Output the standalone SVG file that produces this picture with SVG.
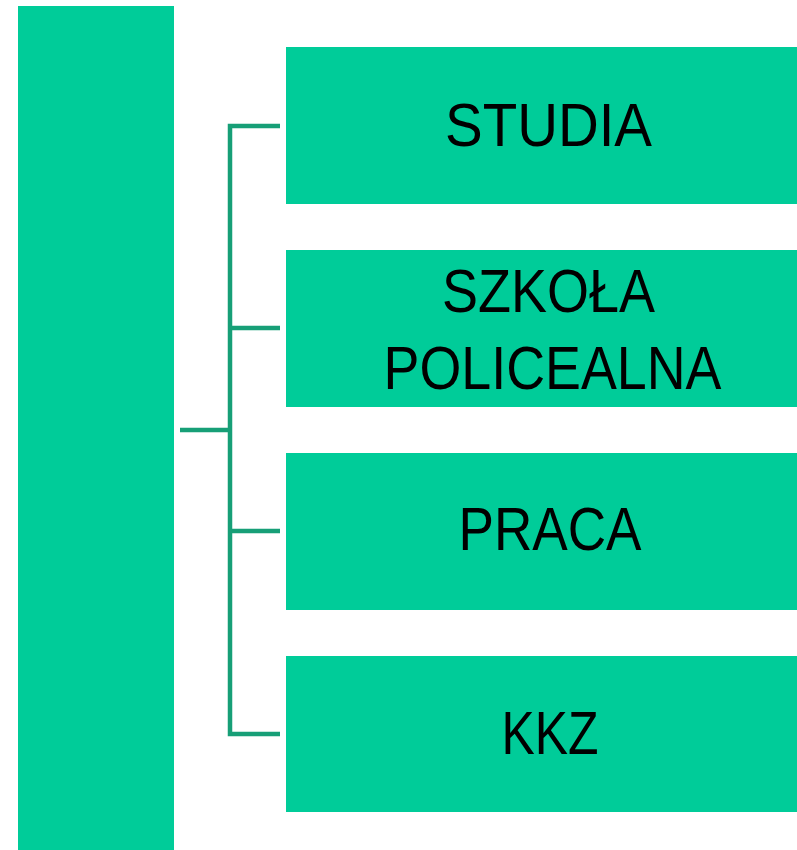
<svg xmlns="http://www.w3.org/2000/svg" width="797" height="850" viewBox="0 0 797 850">
<style>
.box{fill:#00CC99}
.lbl{font-family:"Liberation Sans",Arial,sans-serif;font-size:61px;fill:#000;text-anchor:middle}
.con{stroke:#179F77;stroke-width:4.5;fill:none}
</style>
<rect width="797" height="850" fill="#fff"/>
<g id="root"><rect class="box" x="18" y="6" width="156" height="844"/></g>
<g id="connectors">
<path class="con" d="M180 430H230M280 126H230V734H280M230 328H280M230 531H280"/>
</g>
<g id="studia"><rect class="box" x="286" y="47" width="511" height="157"/>
<text class="lbl" x="548.5" y="146" textLength="207" lengthAdjust="spacingAndGlyphs">STUDIA</text></g>
<g id="szkola"><rect class="box" x="286" y="250" width="511" height="157"/>
<text class="lbl" x="548.5" y="311.5" textLength="213" lengthAdjust="spacingAndGlyphs">SZKOŁA</text>
<text class="lbl" x="552.5" y="388.5" textLength="338" lengthAdjust="spacingAndGlyphs">POLICEALNA</text></g>
<g id="praca"><rect class="box" x="286" y="453" width="511" height="157"/>
<text class="lbl" x="550" y="550" textLength="183" lengthAdjust="spacingAndGlyphs">PRACA</text></g>
<g id="kkz"><rect class="box" x="286" y="656" width="511" height="156"/>
<text class="lbl" x="550" y="753.5" textLength="97" lengthAdjust="spacingAndGlyphs">KKZ</text></g>
</svg>
